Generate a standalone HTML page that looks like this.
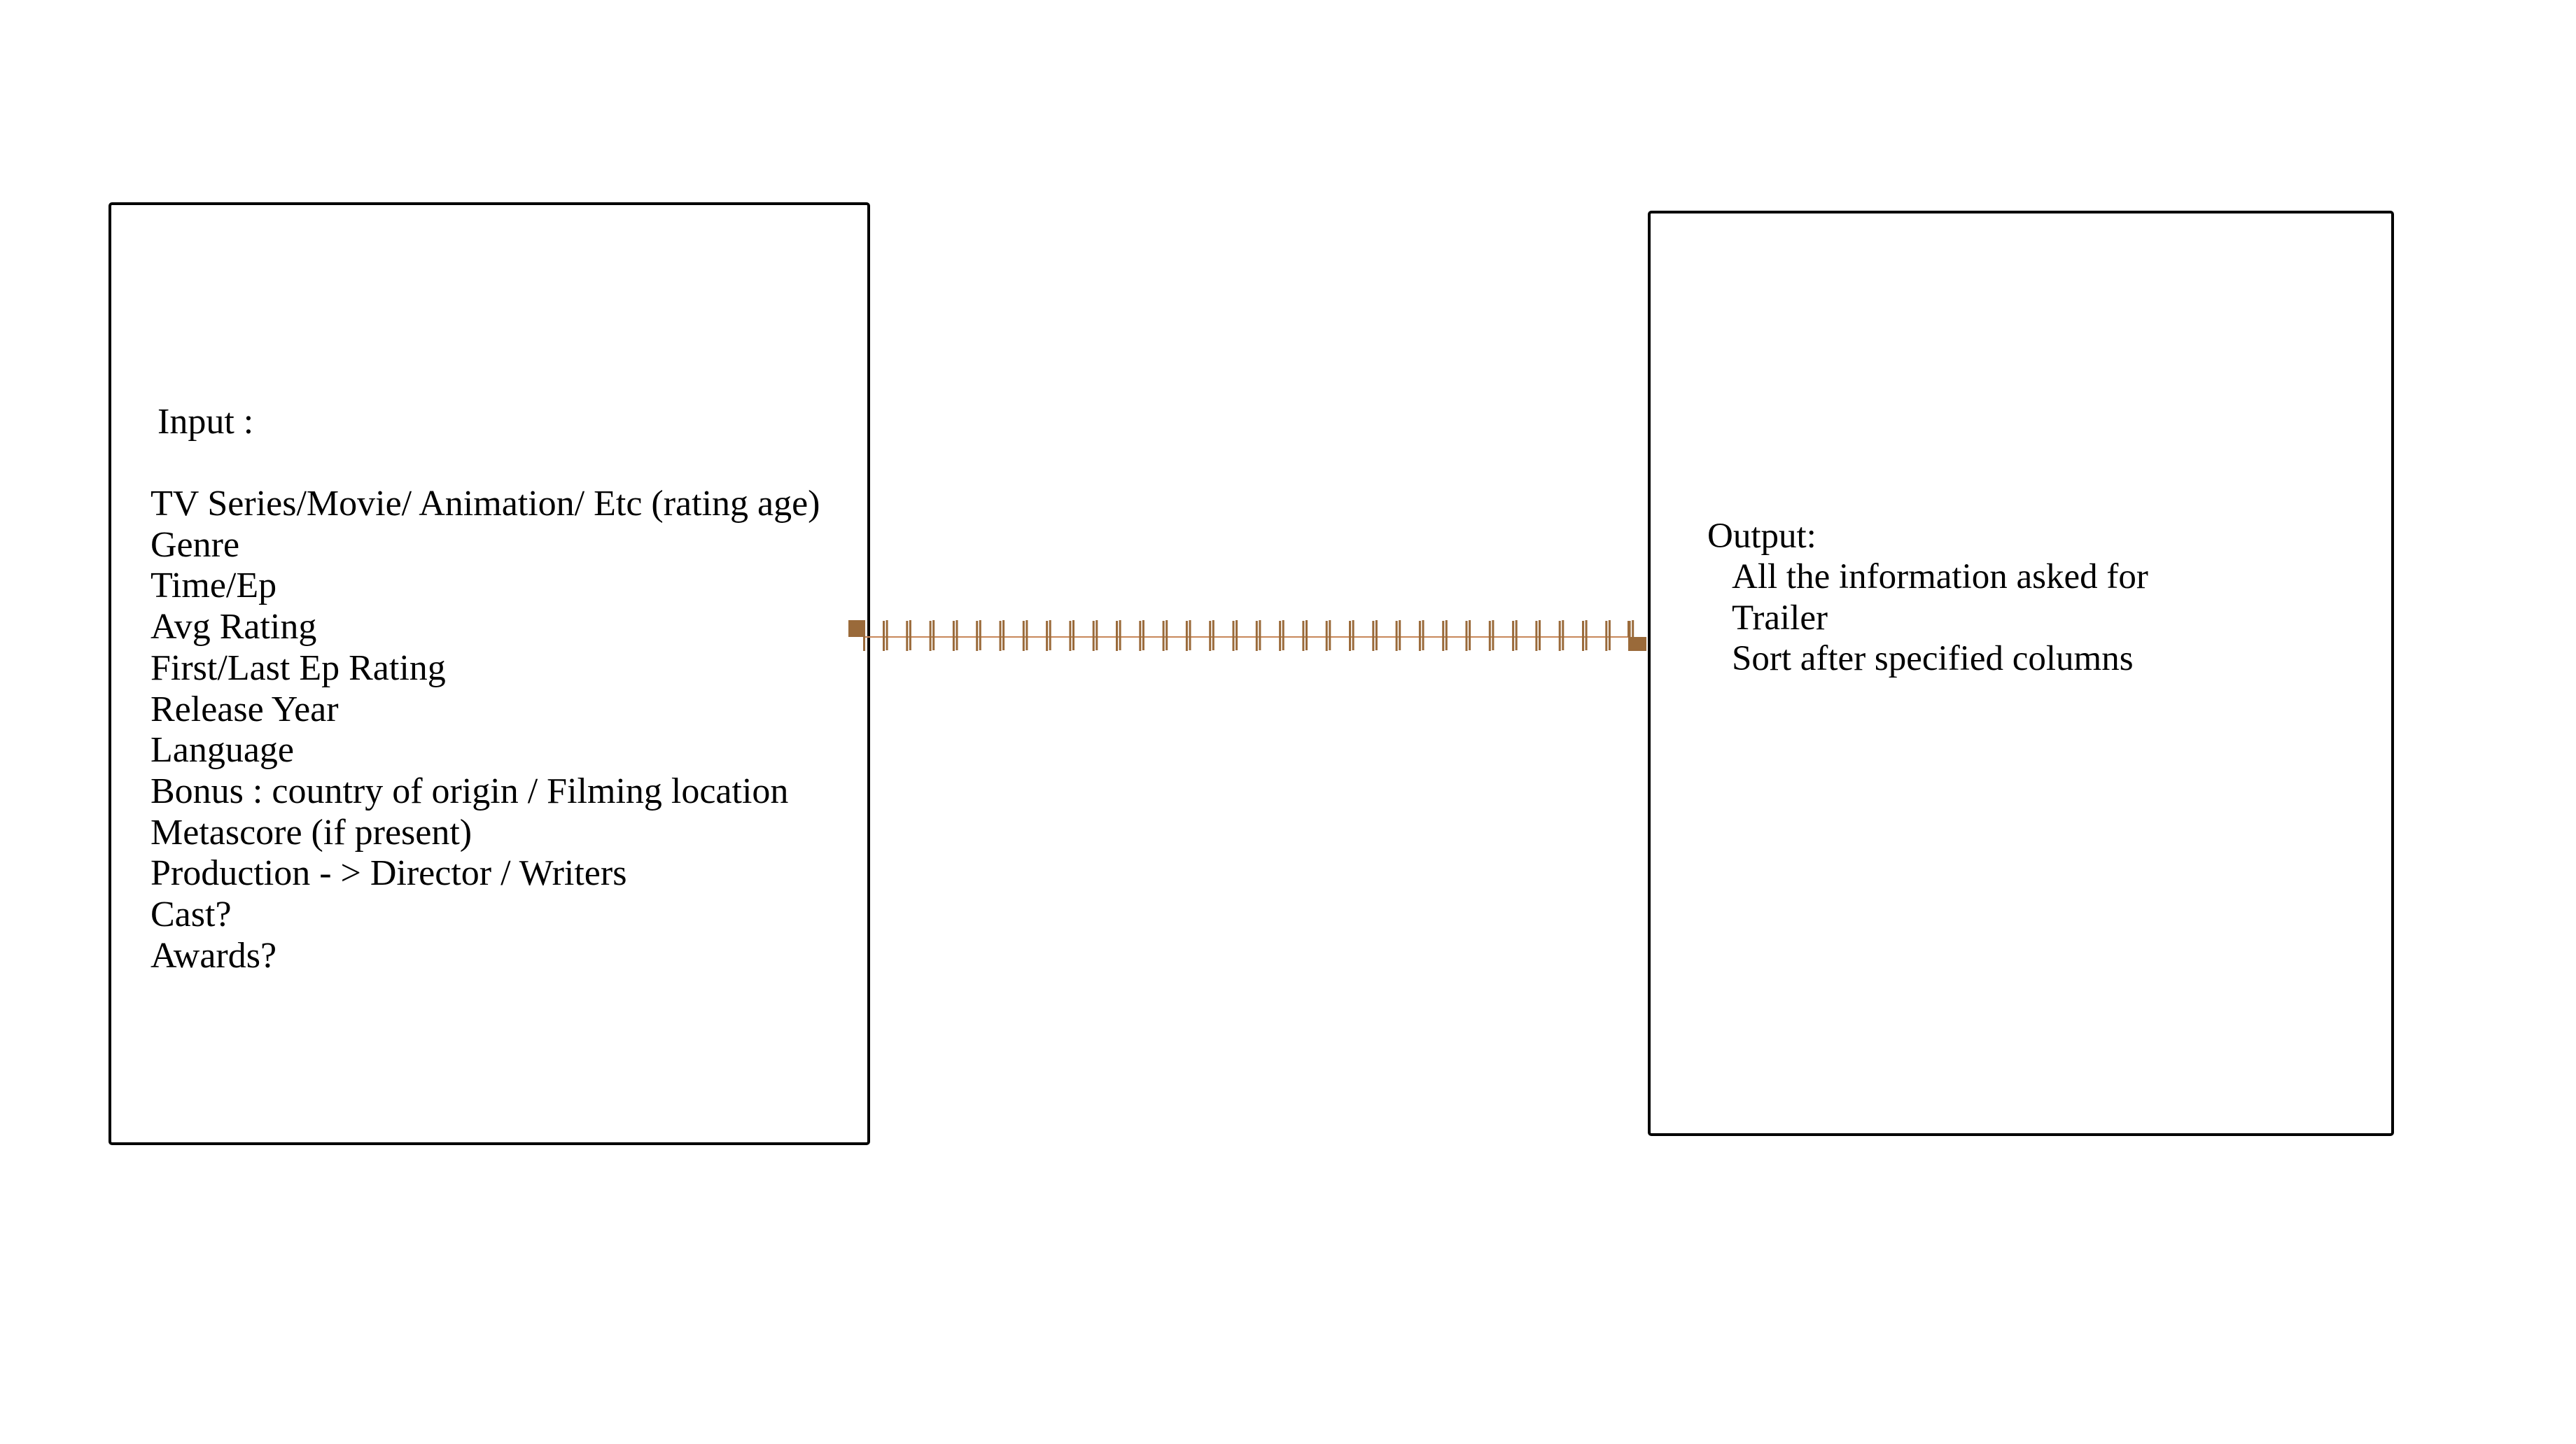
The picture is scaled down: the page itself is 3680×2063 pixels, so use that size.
<!DOCTYPE html>
<html><head><style>
body{margin:0;width:3680px;height:2063px;background:#fff;position:relative;overflow:hidden;font-family:"Liberation Serif",serif;}
.box{position:absolute;border:4px solid #000;border-radius:5px;box-sizing:border-box;}
.t{position:absolute;font-size:52px;line-height:58.7px;white-space:pre;color:#000;}
</style></head><body>
<div class="box" style="left:155px;top:289px;width:1088px;height:1347px;"></div>
<div class="box" style="left:2354px;top:301px;width:1066px;height:1322px;"></div>
<div class="t" style="left:225px;top:574px;">Input :</div>
<div class="t" style="left:215px;top:691px;">TV Series/Movie/ Animation/ Etc (rating age)
Genre
Time/Ep
Avg Rating
First/Last Ep Rating
Release Year
Language
Bonus : country of origin / Filming location
Metascore (if present)
Production - &gt; Director / Writers
Cast?
Awards?</div>
<div class="t" style="left:2439px;top:737px;font-size:51px;">Output:</div>
<div class="t" style="left:2474px;top:795px;font-size:51px;">All the information asked for
Trailer
Sort after specified columns</div>
<svg width="3680" height="2063" style="position:absolute;left:0;top:0">
<line x1="1236" y1="910" x2="2328" y2="910" stroke="#c8875a" stroke-width="2"/>
<rect x="1212" y="886" width="24" height="24" fill="#9a6a3a"/>
<rect x="1233" y="910" width="3" height="20" fill="#9a6a3a"/>
<rect x="2326" y="910" width="26" height="20" fill="#9a6a3a"/>
<g fill="#9a6a3a" id="ticks">
</g>
</svg>
<script>
var g=document.getElementById('ticks'),s='';
for(var i=0;i<33;i++){var x=1261+i*33.3;
s+='<rect x="'+x.toFixed(1)+'" y="887" width="3" height="43"/><rect x="'+(x+4.6).toFixed(1)+'" y="886" width="3" height="43"/>';}
s+='<rect x="2325" y="887" width="3" height="23"/>';
g.innerHTML=s;
</script>
</body></html>
